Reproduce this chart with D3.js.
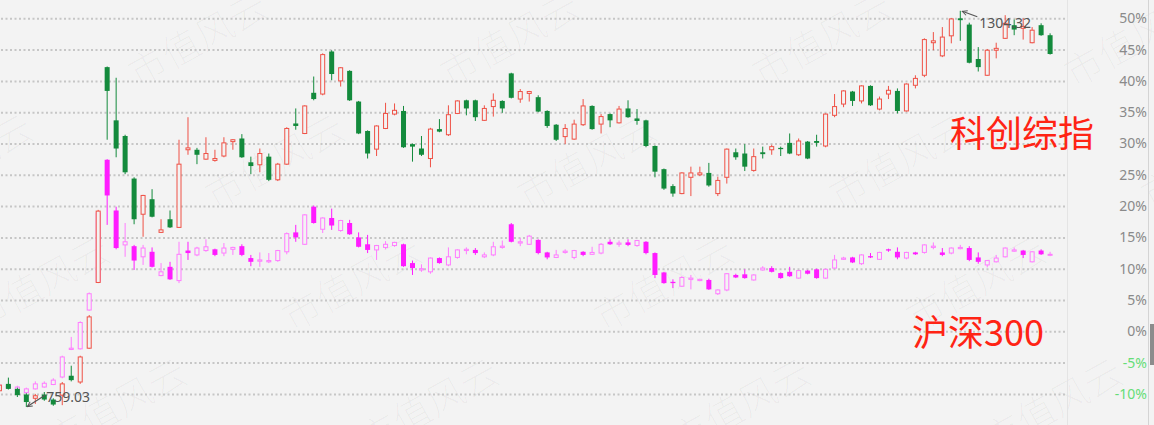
<!DOCTYPE html>
<html>
<head>
<meta charset="utf-8">
<script src="https://cdn.jsdelivr.net/npm/d3@7"></script>
<style>
  body { margin: 0; background: #f3f3f3; }
  svg { display: block; }
</style>
</head>
<body>
<div id="chart"></div>
<script>
// 科创综指 weekly candles, % change vs base
var kcOpen = [-9.5,-8.4,-9.2,-10.1,-10.7,-10.1,-10.9,-10.2,-7.1,-8.1,
  -2.7,7.8,42.2,33.7,31.2,24.4,18.7,21.1,15.8,17.9,
  16.6,29.0,29.0,27.5,27.3,28.0,30.3,30.8,27.0,26.6,
  27.9,24.2,26.7,33.2,31.6,38.1,37.9,44.7,40.0,41.6,
  36.7,32.0,29.1,32.4,34.7,35.2,29.9,29.2,27.6,32.3,
  31.4,34.8,36.9,36.9,33.7,35.9,36.8,41.2,37.1,38.0,
  37.4,35.2,33.0,31.1,30.7,33.0,36.0,33.1,34.7,33.3,
  35.6,34.0,33.7,29.6,25.9,23.2,22.0,24.6,25.0,25.3,
  22.0,24.6,28.6,28.4,25.7,28.6,29.0,29.3,30.1,28.2,
  30.3,30.4,29.6,34.5,36.3,38.3,36.8,39.2,35.5,37.9,
  38.4,35.2,39.3,40.9,46.1,44.0,47.2,50.0,49.0,43.5,
  40.9,44.9,46.8,48.9,48.4,46.1,48.9,47.3];
var kcHigh = [-8.4,-7.4,-9.0,-9.9,-10.0,-9.7,-10.7,-8.1,-5.5,-3.9,
  2.6,19.4,42.3,40.5,31.4,24.6,21.8,22.7,17.9,19.3,
  30.6,34.2,29.3,31.0,29.0,31.0,30.7,31.5,27.9,29.2,
  28.4,26.9,32.6,35.6,36.1,40.7,44.4,44.9,42.2,41.7,
  36.8,32.1,32.9,36.5,36.4,36.0,30.0,31.2,32.5,33.9,
  36.1,36.9,37.0,37.0,36.1,38.0,36.9,41.3,38.7,38.4,
  37.7,35.3,33.1,33.1,33.8,37.1,36.1,34.7,34.8,36.0,
  36.9,35.5,33.8,29.7,26.0,23.5,25.4,26.3,26.3,26.9,
  24.7,29.2,29.2,29.9,29.2,29.5,29.8,29.5,31.6,30.8,
  30.4,31.4,34.8,37.9,38.5,38.4,39.3,39.3,37.5,39.2,
  38.8,39.6,40.9,46.8,47.8,48.6,50.0,51.2,49.3,45.4,
  45.1,46.1,50.5,49.8,50.0,48.6,49.2,47.6];
var kcLow = [-9.7,-9.3,-10.5,-12.1,-11.6,-11.1,-11.9,-11.8,-8.0,-8.4,
  -2.8,7.7,30.6,27.8,25.1,17.1,15.1,18.2,15.7,16.5,
  16.5,28.2,26.7,27.4,27.1,27.8,29.0,27.7,25.1,25.4,
  24.0,24.0,26.6,32.2,31.5,36.9,37.7,40.1,39.1,36.8,
  31.5,27.6,28.0,32.3,34.5,29.3,27.1,28.0,26.2,31.8,
  31.2,34.7,34.5,33.6,33.6,34.3,34.9,37.2,36.5,36.7,
  35.0,32.5,30.4,29.9,30.6,32.8,32.2,31.6,32.6,33.2,
  34.1,33.0,29.4,24.6,22.6,21.5,21.9,21.6,24.8,23.1,
  21.6,23.6,27.4,25.6,25.5,27.6,28.2,28.0,28.3,28.0,
  27.5,29.5,29.4,34.2,35.8,36.0,36.4,36.0,35.3,37.1,
  34.8,35.1,38.8,40.6,44.9,43.8,46.0,46.4,42.8,41.5,
  40.8,43.6,46.7,47.3,46.6,46.0,47.2,44.2];
var kcClose = [-8.6,-9.2,-10.2,-11.3,-10.3,-10.9,-11.7,-8.4,-7.8,-4.1,
  2.3,19.2,38.4,29.2,25.4,17.9,21.7,18.3,16.2,16.6,
  26.7,29.3,28.2,28.4,27.6,30.1,30.6,27.8,26.4,28.4,
  24.2,26.7,32.4,32.8,36.0,37.1,44.2,41.1,42.1,36.9,
  31.6,28.4,32.8,34.8,35.3,29.4,29.5,28.2,32.3,31.9,
  34.6,36.8,35.6,34.2,35.6,36.9,35.6,37.3,38.3,38.3,
  35.1,32.8,30.6,32.4,33.1,36.0,32.3,34.3,33.7,35.5,
  34.2,33.6,29.6,25.5,22.8,22.0,25.3,25.3,25.3,23.3,
  24.1,29.1,27.8,26.3,27.9,28.3,29.5,29.1,28.4,30.4,
  27.6,30.1,34.7,35.9,38.4,36.8,39.2,36.1,37.1,38.5,
  35.2,39.5,40.4,46.6,46.4,47.0,49.9,49.7,42.9,42.2,
  44.9,45.2,49.2,48.2,48.7,48.1,47.3,44.3];

// 沪深300 weekly candles, same % axis
var hsOpen = [-8.9,-8.6,-9.4,-9.8,-9.2,-8.9,-8.5,-7.3,-2.9,-2.8,
  3.4,8.0,27.4,19.3,13.8,13.6,11.9,12.7,8.9,10.3,
  8.1,12.9,12.2,12.9,13.1,12.5,13.1,13.6,11.7,11.2,
  11.1,11.3,12.7,15.8,13.9,19.9,16.3,18.1,16.1,17.3,
  15.0,13.9,13.0,13.4,13.7,13.9,10.9,9.8,9.5,11.7,
  10.6,11.8,12.9,13.0,11.9,12.2,13.4,17.1,14.1,13.9,
  14.6,12.6,11.8,12.6,11.8,12.7,12.3,12.5,14.3,13.9,
  14.2,13.7,14.3,12.5,9.4,7.9,7.2,8.3,8.1,8.2,
  6.0,6.6,9.0,9.1,8.2,9.8,10.1,9.3,9.5,8.5,
  9.7,9.9,8.5,10.1,11.5,11.8,10.8,12.0,11.5,13.1,
  12.7,11.7,12.6,12.6,13.4,12.6,12.5,13.2,13.3,11.8,
  10.6,11.1,11.9,12.8,12.9,11.1,12.9,12.2];
var hsHigh = [-8.3,-8.4,-8.7,-9.0,-8.0,-8.0,-7.5,-3.9,-0.9,1.6,
  6.2,19.1,27.5,19.9,17.3,13.8,13.8,13.4,10.9,11.1,
  14.3,14.3,13.5,14.7,13.2,14.1,13.5,13.9,12.2,12.6,
  12.5,13.0,15.8,17.0,18.7,20.1,18.2,19.6,17.8,17.8,
  15.8,15.4,13.8,14.4,14.3,14.0,11.3,10.7,11.8,11.8,
  13.4,13.1,13.4,13.3,12.6,14.3,14.5,17.3,14.9,15.4,
  14.7,12.7,13.0,13.1,13.0,12.8,13.5,14.1,14.7,14.5,
  14.7,14.6,14.4,12.6,9.5,8.3,8.8,9.0,8.4,8.4,
  6.7,9.3,9.2,9.9,9.1,10.4,10.4,9.4,10.3,9.8,
  9.8,10.0,10.0,12.2,11.9,11.9,12.3,12.5,12.7,13.2,
  13.4,12.7,12.7,13.9,14.2,13.3,13.4,13.8,13.6,12.6,
  11.4,12.2,13.4,13.4,13.0,12.8,13.1,12.7];
var hsLow = [-9.1,-9.2,-9.6,-10.0,-9.3,-9.0,-8.6,-7.5,-3.0,-2.9,
  3.3,7.9,17.0,13.1,11.9,9.8,10.6,10.2,8.8,8.2,
  7.7,11.4,12.0,12.7,12.0,12.0,12.2,12.0,10.4,10.3,
  10.9,11.1,12.3,14.3,13.8,17.2,15.7,16.2,15.9,15.4,
  13.4,12.5,11.4,13.1,13.5,10.3,9.0,9.5,9.2,10.8,
  10.4,11.6,12.3,12.2,11.7,12.0,13.2,14.2,13.6,13.8,
  12.3,11.5,11.7,12.4,11.5,12.0,12.2,12.3,13.8,13.5,
  13.6,13.5,12.3,8.5,7.6,6.9,7.1,6.7,8.0,6.6,
  5.8,6.4,8.5,8.4,8.1,9.7,9.4,8.4,8.7,8.4,
  9.1,8.4,8.4,10.0,11.4,10.9,10.6,11.7,11.4,12.7,
  11.5,11.5,12.2,12.4,13.1,12.0,12.3,13.1,11.2,10.8,
  10.2,11.0,11.8,12.7,11.7,11.0,12.2,12.0];
var hsClose = [-8.6,-9.1,-8.9,-9.2,-8.4,-8.3,-7.8,-4.1,-2.7,1.4,
  6.0,18.9,21.7,13.3,14.3,11.3,13.3,10.3,9.5,8.3,
  12.3,12.5,13.3,13.5,12.2,13.3,13.4,12.2,11.1,11.4,
  11.3,12.9,15.6,15.0,18.6,17.3,18.1,16.9,17.7,15.5,
  13.5,13.0,13.7,13.9,14.2,10.4,10.1,10.0,11.7,10.9,
  11.9,13.0,13.1,12.5,12.2,13.5,13.6,14.3,14.3,15.2,
  12.5,11.8,12.2,12.8,12.9,12.2,12.6,13.9,13.9,14.1,
  13.8,14.5,12.5,9.0,7.7,7.7,8.6,8.5,8.3,6.7,
  6.6,9.2,8.6,8.5,9.0,10.1,9.5,8.5,8.8,9.7,
  9.2,8.5,9.9,11.4,11.7,11.0,12.2,11.8,12.6,12.9,
  11.8,12.6,12.3,13.8,13.6,12.2,13.3,13.4,11.4,11.1,
  11.3,11.7,13.3,13.0,12.2,12.7,12.3,12.3];

var weeks = kcOpen.map(function(d, i) { return i; });
var yTicks = [50, 45, 40, 35, 30, 25, 20, 15, 10, 5, 0, -5, -10];
var kcLowLabel = "759.03";
var kcHighLabel = "1304.32";
var watermarkText = "市值风云";

var width = 1154, height = 425;
var bg = "#f3f3f3";

var svg = d3.select("#chart").append("svg")
  .attr("width", width)
  .attr("height", height)
  .style("background", bg);

var x = d3.scalePoint().domain(weeks).range([-0.6, 1050.1]);
var y = d3.scaleLinear().domain([-10, 50]).range([393.9, 18.3]);
var bodyW = 5;

// watermark tiles
var wm = svg.append("g");
for (var j = 0; j < 4; j++) {
  for (var i = -1; i < 5; i++) {
    var cx = 198 + 77 * j + 312 * i, cy = 40 + 122 * j;
    wm.append("text")
      .attr("transform", "translate(" + cx + "," + cy + ") rotate(-29)")
      .attr("text-anchor", "middle")
      .attr("dy", "0.35em")
      .style("font-family", "'Noto Sans CJK SC', sans-serif")
      .style("font-weight", 300)
      .style("font-size", "38px")
      .style("fill", "#000")
      .style("fill-opacity", 0.03)
      .text(watermarkText);
  }
}

// gridlines + right axis
var yAxis = d3.axisRight(y).tickValues(yTicks)
  .tickSize(-1065)
  .tickFormat(function(d) { return d + "%"; });

var ax = svg.append("g")
  .attr("transform", "translate(1065,0)")
  .call(yAxis);
ax.select(".domain").remove();
ax.selectAll(".tick line")
  .attr("stroke", "#c6c6c6")
  .attr("stroke-width", 2)
  .attr("stroke-dasharray", "2,2.5");
ax.selectAll(".tick text")
  .attr("x", 82)
  .attr("text-anchor", "end")
  .style("font-family", "'Noto Sans', sans-serif")
  .style("font-size", "14px")
  .style("fill", function(d) { return d < 0 ? "#66dd77" : "#8a8a8a"; });

svg.append("line")
  .attr("x1", 1067.5).attr("x2", 1067.5).attr("y1", 0).attr("y2", height)
  .attr("stroke", "#e4e4e4");
svg.append("line")
  .attr("x1", 1148.5).attr("x2", 1148.5).attr("y1", 0).attr("y2", height)
  .attr("stroke", "#d4d4d4");
svg.append("rect")
  .attr("x", 1150).attr("y", 324).attr("width", 4).attr("height", 41)
  .attr("fill", "#8c8c8c");

function drawCandles(open, high, low, close, upColor, downColor) {
  var g = svg.append("g");
  var c = g.selectAll("g").data(weeks).enter().append("g");
  c.append("line")
    .attr("x1", function(i) { return x(i); })
    .attr("x2", function(i) { return x(i); })
    .attr("y1", function(i) { return y(high[i]); })
    .attr("y2", function(i) { return y(low[i]); })
    .attr("stroke", function(i) { return close[i] >= open[i] ? upColor : downColor; })
    .attr("stroke-width", 1);
  c.append("rect")
    .attr("x", function(i) { return close[i] >= open[i] ? x(i) - bodyW / 2 + 0.5 : x(i) - bodyW / 2; })
    .attr("width", function(i) { return close[i] >= open[i] ? bodyW - 1 : bodyW; })
    .attr("y", function(i) { return y(Math.max(open[i], close[i])); })
    .attr("height", function(i) { return Math.max(1, Math.abs(y(open[i]) - y(close[i]))); })
    .attr("fill", function(i) { return close[i] >= open[i] ? bg : downColor; })
    .attr("stroke", function(i) { return close[i] >= open[i] ? upColor : "none"; })
    .attr("stroke-width", 1);
}

drawCandles(hsOpen, hsHigh, hsLow, hsClose, "#ff7cff", "#ff1cff");
drawCandles(kcOpen, kcHigh, kcLow, kcClose, "#ef5146", "#138a3c");

// series names
svg.append("text")
  .attr("x", 950).attr("y", 147)
  .style("font-family", "'Noto Sans CJK SC', sans-serif")
  .style("font-size", "36px")
  .style("fill", "#ff2414")
  .text("科创综指");
svg.append("text")
  .attr("x", 912).attr("y", 346)
  .style("font-family", "'Noto Sans CJK SC', sans-serif")
  .style("font-size", "36px")
  .style("fill", "#ff2414")
  .text("沪深300");

// extreme markers
svg.append("defs").append("marker")
  .attr("id", "arr")
  .attr("viewBox", "0 0 10 10")
  .attr("refX", 9).attr("refY", 5)
  .attr("markerWidth", 7).attr("markerHeight", 7)
  .attr("markerUnits", "userSpaceOnUse")
  .attr("orient", "auto")
  .append("path")
  .attr("d", "M2,1.5 L9,5 L2,8.5")
  .attr("fill", "none")
  .attr("stroke", "#555")
  .attr("stroke-width", 1.4);

var iLow = d3.minIndex(kcLow), iHigh = d3.maxIndex(kcHigh);
var lx = x(iLow), ly = y(kcLow[iLow]);
svg.append("line")
  .attr("x1", lx + 19).attr("y1", ly - 12)
  .attr("x2", lx + 1).attr("y2", ly - 0.5)
  .attr("stroke", "#555").attr("stroke-width", 1.2)
  .attr("marker-end", "url(#arr)");
svg.append("text")
  .attr("x", lx + 20).attr("y", ly - 5)
  .style("font-family", "'Noto Sans', sans-serif")
  .style("font-size", "14px")
  .style("fill", "#555")
  .text(kcLowLabel);

var hx = x(iHigh), hy = y(kcHigh[iHigh]);
svg.append("line")
  .attr("x1", hx + 17).attr("y1", hy + 6)
  .attr("x2", hx + 2).attr("y2", hy + 0.5)
  .attr("stroke", "#555").attr("stroke-width", 1.2)
  .attr("marker-end", "url(#arr)");
svg.append("text")
  .attr("x", hx + 19).attr("y", hy + 17)
  .style("font-family", "'Noto Sans', sans-serif")
  .style("font-size", "14px")
  .style("fill", "#555")
  .text(kcHighLabel);
</script>
</body>
</html>
